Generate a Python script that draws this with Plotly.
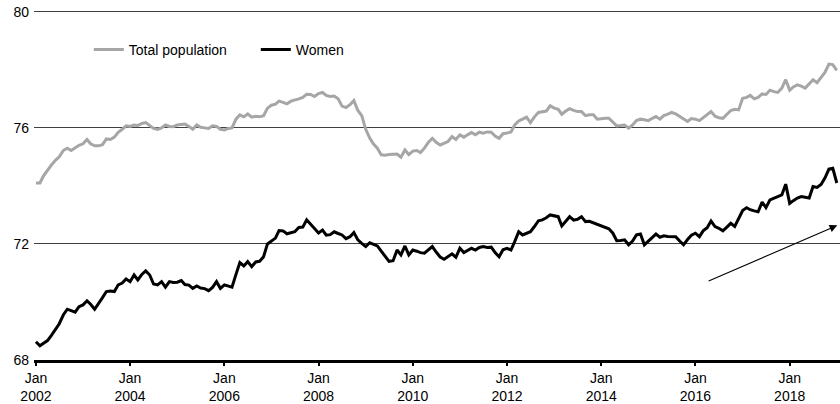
import pandas as pd
import plotly.graph_objects as go

# monthly series, Jan 2002 .. Jan 2019
months = pd.date_range("2002-01-01", periods=205, freq="MS")

total_population = [
    74.1, 74.1, 74.35, 74.55, 74.72, 74.88, 75.0, 75.22, 75.3, 75.22, 75.3, 75.4,
    75.45, 75.6, 75.45, 75.38, 75.38, 75.42, 75.62, 75.6, 75.68, 75.85, 75.95, 76.07,
    76.05, 76.1, 76.08, 76.15, 76.18, 76.08, 75.98, 75.95, 76.0, 76.1, 76.05, 76.04,
    76.1, 76.12, 76.13, 76.05, 75.95, 76.1, 76.02, 76.0, 75.98, 76.07, 76.05, 75.95,
    75.93, 75.98, 76.0, 76.3, 76.45, 76.38, 76.48, 76.37, 76.4, 76.38, 76.42, 76.68,
    76.78, 76.82, 76.92, 76.88, 76.83, 76.92, 76.95, 77.0, 77.05, 77.16, 77.15, 77.08,
    77.18, 77.22, 77.12, 77.08, 77.1, 77.0, 76.75, 76.7, 76.8, 76.94, 76.6, 76.42,
    75.95, 75.65, 75.45, 75.3, 75.07, 75.06, 75.08, 75.1, 75.1, 74.99, 75.24, 75.08,
    75.2, 75.22, 75.15, 75.3, 75.5, 75.64, 75.5, 75.41, 75.48, 75.53, 75.7, 75.6,
    75.76, 75.68, 75.76, 75.84, 75.76, 75.85, 75.82, 75.86, 75.85, 75.72, 75.64, 75.8,
    75.82, 75.86, 76.1, 76.24, 76.3, 76.37, 76.18, 76.38, 76.53, 76.55, 76.58, 76.76,
    76.68, 76.64, 76.47, 76.58, 76.66, 76.6, 76.56, 76.56, 76.42, 76.45, 76.45, 76.3,
    76.32, 76.33, 76.33, 76.2, 76.07, 76.08, 76.1, 75.99, 76.1, 76.25, 76.3, 76.28,
    76.25, 76.33, 76.39, 76.3, 76.42, 76.47, 76.53, 76.48, 76.4, 76.3, 76.22, 76.32,
    76.3, 76.25, 76.35, 76.45, 76.56, 76.4, 76.35, 76.33, 76.45, 76.6, 76.64, 76.62,
    77.02, 77.05, 77.12, 77.0, 77.05, 77.17, 77.15, 77.3, 77.25, 77.22, 77.37, 77.66,
    77.3, 77.42, 77.48, 77.44, 77.37, 77.5, 77.66, 77.56, 77.72, 77.91, 78.2, 78.18,
    77.98,
]

women = [
    68.63, 68.49, 68.58, 68.67, 68.85, 69.05, 69.25, 69.55, 69.75, 69.7, 69.65, 69.84,
    69.9, 70.04, 69.92, 69.75, 69.93, 70.15, 70.36, 70.38, 70.36, 70.59, 70.65, 70.79,
    70.7, 70.93, 70.76, 70.95, 71.07, 70.93, 70.62, 70.59, 70.7, 70.51, 70.7, 70.67,
    70.68, 70.74, 70.6, 70.58, 70.47, 70.55, 70.48, 70.46, 70.39, 70.5, 70.7, 70.47,
    70.59, 70.56, 70.51, 70.95, 71.36, 71.24, 71.39, 71.22, 71.38, 71.4, 71.56, 72.0,
    72.1, 72.2, 72.46, 72.45, 72.35, 72.38, 72.42, 72.57, 72.58, 72.83, 72.68, 72.54,
    72.38, 72.48, 72.3, 72.32, 72.42, 72.36, 72.31, 72.18, 72.25, 72.39, 72.14, 72.02,
    71.91, 72.04, 72.0, 71.93, 71.75, 71.55, 71.4, 71.42, 71.79, 71.62, 71.93, 71.62,
    71.79, 71.75, 71.7, 71.68, 71.78, 71.91, 71.72, 71.55, 71.47, 71.55, 71.66, 71.54,
    71.85, 71.7, 71.78, 71.85, 71.79, 71.88, 71.91, 71.88, 71.89, 71.7, 71.56, 71.8,
    71.85, 71.79, 72.08, 72.42, 72.31, 72.36, 72.42, 72.6, 72.8, 72.83, 72.9, 73.0,
    72.96, 72.94, 72.62, 72.8, 72.94, 72.82, 72.85, 72.94, 72.77, 72.78, 72.73, 72.68,
    72.62, 72.58, 72.52, 72.37, 72.11, 72.12, 72.14, 71.97, 72.1, 72.31, 72.34, 71.97,
    72.1, 72.2, 72.34, 72.23, 72.28, 72.26, 72.25, 72.25, 72.1, 71.97, 72.15, 72.3,
    72.37, 72.25, 72.45, 72.56, 72.79, 72.6, 72.54, 72.45, 72.58, 72.71, 72.6, 72.89,
    73.15, 73.25, 73.18, 73.14, 73.11, 73.44, 73.25, 73.52, 73.58, 73.63, 73.69, 74.06,
    73.4, 73.5, 73.58, 73.63, 73.6, 73.58, 73.98, 73.95, 74.05, 74.27, 74.58, 74.61,
    74.1,
]

tick_dates = ["2002-01-01", "2004-01-01", "2006-01-01", "2008-01-01", "2010-01-01",
              "2012-01-01", "2014-01-01", "2016-01-01", "2018-01-01"]
tick_text = ["Jan<br>2002", "Jan<br>2004", "Jan<br>2006", "Jan<br>2008", "Jan<br>2010",
             "Jan<br>2012", "Jan<br>2014", "Jan<br>2016", "Jan<br>2018"]

# arrow (tail -> head)
arrow_tail = ("2016-04-01", 70.7)
arrow_head = ("2019-01-05", 72.64)

fig = go.Figure()
fig.add_trace(go.Scatter(x=months, y=total_population, mode="lines", name="Total population",
                         line=dict(color="#a6a6a6", width=3)))
fig.add_trace(go.Scatter(x=months, y=women, mode="lines", name="Women",
                         line=dict(color="#000000", width=3)))

fig.add_annotation(x=arrow_head[0], y=arrow_head[1], ax=arrow_tail[0], ay=arrow_tail[1],
                   xref="x", yref="y", axref="x", ayref="y", text="",
                   showarrow=True, arrowhead=2, arrowsize=1.4, arrowwidth=1.1, arrowcolor="#000000")

fig.update_layout(
    width=840, height=404,
    margin=dict(l=34, r=0, t=6, b=44),
    paper_bgcolor="white", plot_bgcolor="white",
    font=dict(family="Liberation Sans, Arial, sans-serif", size=14, color="#000000"),
    showlegend=True,
    legend=dict(orientation="h", x=0.068, y=0.876, xanchor="left", yanchor="middle",
                bgcolor="rgba(0,0,0,0)", font=dict(size=14),
                entrywidth=122, entrywidthmode="pixels", itemwidth=30),
)

fig.update_xaxes(
    range=["2001-12-17", "2019-01-26"], automargin=False,
    tickvals=tick_dates, ticktext=tick_text,
    showgrid=False, zeroline=False,
    showline=True, linecolor="#000000", linewidth=3,
    ticks="outside", ticklen=3, tickwidth=2, tickcolor="#000000",
    tickfont=dict(size=14),
)
fig.update_yaxes(
    range=[68, 80.2], tickvals=[68, 72, 76, 80], automargin=False,
    showgrid=True, gridcolor="#404040", gridwidth=1,
    zeroline=False, showline=False, ticks="", ticklabelstandoff=4,
    tickfont=dict(size=14),
)

# page body has a default 8px margin; drop it so the figure fills the window
fig.write_html("out.html", config={"displayModeBar": False},
               post_script="document.body.style.margin='0';")
